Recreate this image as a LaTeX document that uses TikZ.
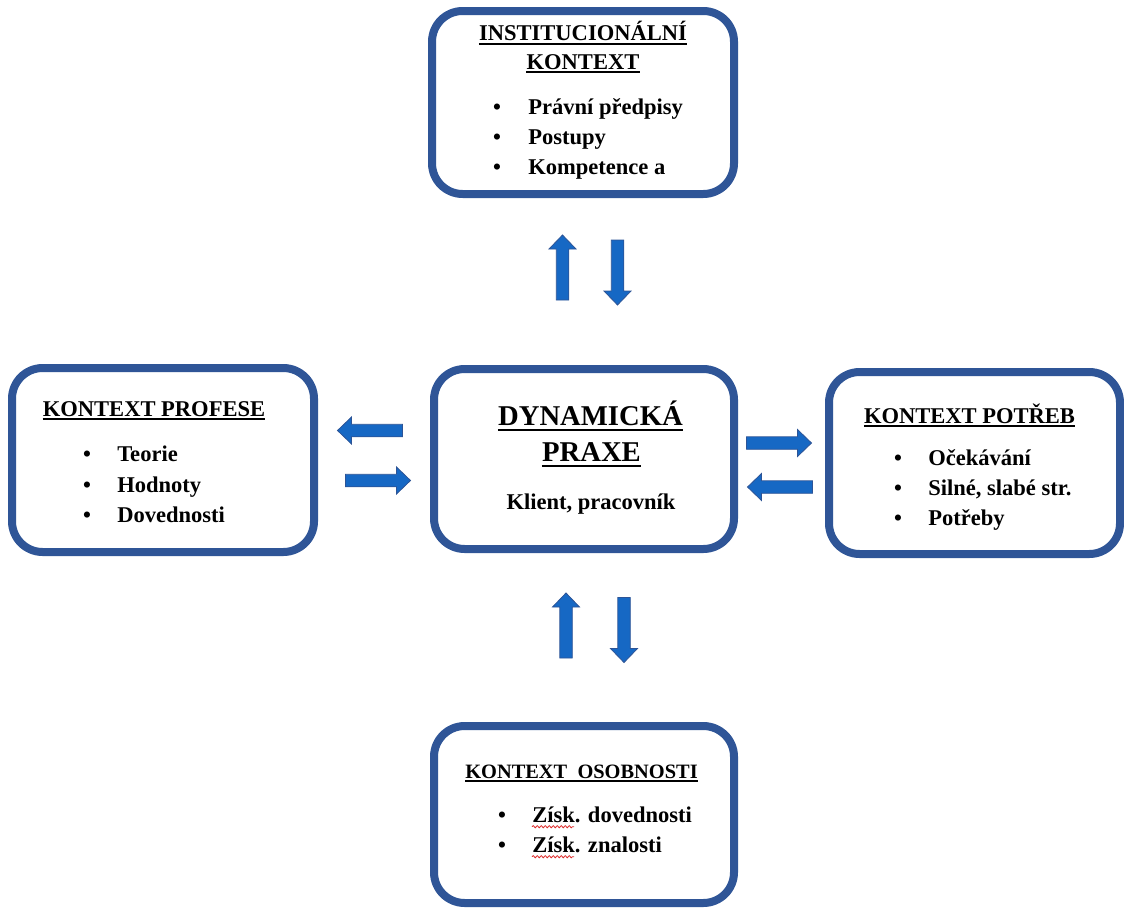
\documentclass[tikz,border=0pt]{standalone}
\usepackage{fontspec}
\setmainfont{Liberation Serif}
\usetikzlibrary{decorations.pathmorphing}
\definecolor{frameblue}{RGB}{47,85,151}
\definecolor{arrowfill}{RGB}{22,104,196}
\definecolor{arrowedge}{RGB}{45,84,150}
\definecolor{spellred}{RGB}{220,40,40}

\begin{document}
\begin{tikzpicture}[x=0.75pt,y=-0.75pt,
  box/.style={draw=frameblue, line width=6pt, rounded corners=23pt, fill=white, inner sep=0pt},
  txt/.style={font=\fontsize{16.9}{20}\selectfont\bfseries, inner sep=0pt, anchor=base west},
  head/.style={font=\fontsize{16.9}{20}\selectfont\bfseries, inner sep=0pt, anchor=base},
  smallhead/.style={font=\fontsize{15.3}{18}\selectfont\bfseries, inner sep=0pt, anchor=base},
  big/.style={font=\fontsize{21.5}{26}\selectfont\bfseries, inner sep=0pt, anchor=base},
  dot/.style={font=\fontsize{16.9}{20}\selectfont\bfseries, inner sep=0pt, anchor=base},
  uline/.style={line width=1.5pt},
  wavy/.style={draw=spellred, line width=0.6pt, decorate,
    decoration={snake, amplitude=0.8pt, segment length=3pt}},
  pics/barrow/.style={code={
    \filldraw[fill=arrowfill, draw=arrowedge, line width=0.6pt]
      (-32.5,-6.25) -- (18.5,-6.25) -- (18.5,-13.5) -- (32.5,0)
      -- (18.5,13.5) -- (18.5,6.25) -- (-32.5,6.25) -- cycle;}}
]
\useasboundingbox (0,0) rectangle (1124,910);

% frames
\node[box, minimum width={302*0.75pt}, minimum height={183*0.75pt}] (inst) at (583,102.5) {};
\node[box, minimum width={300*0.75pt}, minimum height={180*0.75pt}] (praxe) at (584,459) {};
\node[box, minimum width={302*0.75pt}, minimum height={184*0.75pt}] (prof) at (163,460) {};
\node[box, minimum width={291*0.75pt}, minimum height={182*0.75pt}] (potr) at (974.5,463) {};
\node[box, minimum width={300*0.75pt}, minimum height={177*0.75pt}] (osob) at (584,814.5) {};

% institutional context
\node[head] (h1a) at (583,40.5) {INSTITUCIONÁLNÍ};
\node[head] (h1b) at (583,69) {KONTEXT};
\draw[uline] ([yshift=-2.6pt]h1a.base west) -- ([yshift=-2.6pt]h1a.base east);
\draw[uline] ([yshift=-2.6pt]h1b.base west) -- ([yshift=-2.6pt]h1b.base east);
\node[dot] (b1a) at (497,114) {•};
\node[dot] (b1b) at (497,144) {•};
\node[dot] (b1c) at (497,174) {•};
\node[txt] (i1a) at (528,114) {Právní předpisy};
\node[txt] (i1b) at (528,144) {Postupy};
\node[txt] (i1c) at (528,174) {Kompetence a};

% dynamic practice
\node[big] (h2a) at (590.5,425.5) {DYNAMICKÁ};
\node[big] (h2b) at (591.5,461.5) {PRAXE};
\draw[uline] ([yshift=-3pt]h2a.base west) -- ([yshift=-3pt]h2a.base east);
\draw[uline] ([yshift=-3pt]h2b.base west) -- ([yshift=-3pt]h2b.base east);
\node[head] (i2) at (591,509) {Klient, pracovník};

% profession context
\node[head] (h3) at (154,416) {KONTEXT PROFESE};
\draw[uline] ([yshift=-2.6pt]h3.base west) -- ([yshift=-2.6pt]h3.base east);
\node[dot] (b3a) at (87,461) {•};
\node[dot] (b3b) at (87,492) {•};
\node[dot] (b3c) at (87,522) {•};
\node[txt] (i3a) at (117,461) {Teorie};
\node[txt] (i3b) at (117,492) {Hodnoty};
\node[txt] (i3c) at (117,522) {Dovednosti};

% needs context
\node[head] (h4) at (969.5,423) {KONTEXT POTŘEB};
\draw[uline] ([yshift=-2.6pt]h4.base west) -- ([yshift=-2.6pt]h4.base east);
\node[dot] (b4a) at (898,465) {•};
\node[dot] (b4b) at (898,495) {•};
\node[dot] (b4c) at (898,525) {•};
\node[txt] (i4a) at (928,465) {Očekávání};
\node[txt] (i4b) at (928,495) {Silné, slabé str.};
\node[txt] (i4c) at (928,525) {Potřeby};

% personality context
\node[smallhead] (h5) at (581.5,778) {KONTEXT\ \ OSOBNOSTI};
\draw[uline] ([yshift=-2.4pt]h5.base west) -- ([yshift=-2.4pt]h5.base east);
\node[dot] (b5a) at (502,822) {•};
\node[dot] (b5b) at (502,852) {•};
\node[txt] (i5a) at (532,822) {Získ. dovednosti};
\node[txt] (i5b) at (532,852) {Získ. znalosti};
\draw[wavy] ([yshift=-3.5pt]i5a.base west) -- ++(42,0);
\draw[wavy] ([yshift=-3.5pt]i5b.base west) -- ++(42,0);

% block arrows between the frames
\pic[rotate=90]  (upT)  at (562.5,267.5) {barrow};
\pic[rotate=-90] (dnT)  at (617.5,272.5) {barrow};
\pic[rotate=180] (ltL)  at (370,430.5) {barrow};
\pic             (rtL)  at (378,480.5) {barrow};
\pic             (rtR)  at (779,443) {barrow};
\pic[rotate=180] (ltR)  at (780,487) {barrow};
\pic[rotate=90]  (upB)  at (566,625.5) {barrow};
\pic[rotate=-90] (dnB)  at (624,630) {barrow};
\end{tikzpicture}
\end{document}
